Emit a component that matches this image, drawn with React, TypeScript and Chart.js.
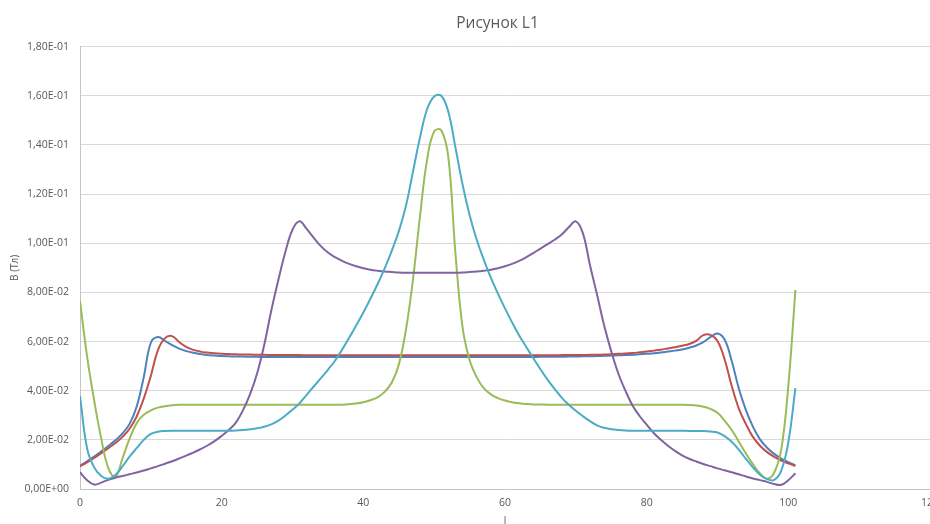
import React, { useEffect, useRef } from "react";
import { Chart, registerables } from "chart.js";

Chart.register(...registerables);

const positions = [
  0, 1, 2, 3, 4, 5, 6, 7, 8, 9, 10, 11, 12, 13, 14, 15, 16, 17, 18, 19, 20, 21, 22, 23, 24, 25,
  26, 27, 28, 29, 30, 31, 32, 33, 34, 35, 36, 37, 38, 39, 40, 41, 42, 43, 44, 45, 46, 47, 48, 49, 50,
  51, 52, 53, 54, 55, 56, 57, 58, 59, 60, 61, 62, 63, 64, 65, 66, 67, 68, 69, 70, 71, 72, 73, 74, 75,
  76, 77, 78, 79, 80, 81, 82, 83, 84, 85, 86, 87, 88, 89, 90, 91, 92, 93, 94, 95, 96, 97, 98, 99, 100, 101,
];

const seriesBlue = [
  0.0095, 0.0113, 0.0132, 0.0153, 0.0175, 0.0198, 0.0226, 0.0265, 0.0335, 0.0455,
  0.0595, 0.0618, 0.0603, 0.0585, 0.0571, 0.0561, 0.0554, 0.0549, 0.0545, 0.0543,
  0.0541, 0.054, 0.0539, 0.0539, 0.0538, 0.0538, 0.0537, 0.0537, 0.0537, 0.0537,
  0.0537, 0.0537, 0.0537, 0.0537, 0.0537, 0.0537, 0.0537, 0.0537, 0.0537, 0.0537,
  0.0537, 0.0537, 0.0537, 0.0537, 0.0537, 0.0537, 0.0537, 0.0537, 0.0537, 0.0537,
  0.0537, 0.0537, 0.0537, 0.0537, 0.0537, 0.0537, 0.0537, 0.0537, 0.0537, 0.0537,
  0.0537, 0.0537, 0.0537, 0.0537, 0.0537, 0.0538, 0.0538, 0.0538, 0.0538, 0.0539,
  0.0539, 0.054, 0.054, 0.0541, 0.0542, 0.0543, 0.0544, 0.0545, 0.0546, 0.0548,
  0.055, 0.0552, 0.0555, 0.0559, 0.0563, 0.0568, 0.0575, 0.0584, 0.0598, 0.0618,
  0.0633, 0.0608, 0.0522, 0.041, 0.0322, 0.0254, 0.0202, 0.0168, 0.0143, 0.0124,
  0.0109, 0.0097,
];

const seriesRed = [
  0.0092, 0.0108, 0.0126, 0.0146, 0.0166, 0.0187, 0.0212, 0.0245, 0.0295, 0.0368,
  0.046, 0.0565, 0.0614, 0.0622, 0.0598, 0.0578, 0.0566, 0.0559, 0.0555, 0.0552,
  0.055, 0.0549, 0.0548, 0.0547, 0.0547, 0.0546, 0.0546, 0.0545, 0.0545, 0.0545,
  0.0545, 0.0545, 0.0544, 0.0544, 0.0544, 0.0544, 0.0544, 0.0544, 0.0544, 0.0544,
  0.0544, 0.0544, 0.0544, 0.0544, 0.0544, 0.0544, 0.0544, 0.0544, 0.0544, 0.0544,
  0.0544, 0.0544, 0.0544, 0.0544, 0.0544, 0.0544, 0.0544, 0.0544, 0.0544, 0.0544,
  0.0544, 0.0544, 0.0544, 0.0544, 0.0544, 0.0544, 0.0544, 0.0544, 0.0545, 0.0545,
  0.0545, 0.0545, 0.0546, 0.0546, 0.0547, 0.0548, 0.055, 0.0551, 0.0553, 0.0556,
  0.0559, 0.0563, 0.0567, 0.0572, 0.0577, 0.0583, 0.059, 0.0603, 0.0626, 0.0627,
  0.0602, 0.0528, 0.042, 0.0328, 0.0265, 0.0212, 0.0176, 0.015, 0.0131, 0.0116,
  0.0104, 0.0093,
];

const seriesGreen = [
  0.0765, 0.054, 0.036, 0.0205, 0.0085, 0.0048, 0.0125, 0.0205, 0.0268, 0.0302,
  0.032, 0.0331, 0.0337, 0.0341, 0.0343, 0.0343, 0.0343, 0.0343, 0.0343, 0.0343,
  0.0343, 0.0343, 0.0343, 0.0343, 0.0343, 0.0343, 0.0343, 0.0343, 0.0343, 0.0343,
  0.0343, 0.0343, 0.0343, 0.0343, 0.0343, 0.0343, 0.0343, 0.0343, 0.0345, 0.0348,
  0.0353, 0.0361, 0.0373, 0.0395, 0.0432, 0.0505, 0.0645, 0.085, 0.111, 0.134,
  0.1455, 0.146, 0.135, 0.096, 0.066, 0.0525, 0.0455, 0.041, 0.0385, 0.037,
  0.036, 0.0353, 0.0349, 0.0346, 0.0344, 0.0344, 0.0343, 0.0343, 0.0343, 0.0343,
  0.0343, 0.0343, 0.0343, 0.0343, 0.0343, 0.0343, 0.0343, 0.0343, 0.0343, 0.0343,
  0.0343, 0.0343, 0.0343, 0.0343, 0.0343, 0.0343, 0.0342, 0.034, 0.0335, 0.0326,
  0.031, 0.0278, 0.024, 0.0193, 0.0145, 0.0101, 0.0063, 0.0042, 0.0066, 0.016,
  0.042, 0.081,
];

const seriesPurple = [
  0.0068, 0.0036, 0.0018, 0.0026, 0.0037, 0.0046, 0.0053, 0.006, 0.0067, 0.0075,
  0.0084, 0.0093, 0.0103, 0.0113, 0.0124, 0.0136, 0.0148, 0.0162, 0.0177, 0.0195,
  0.0216, 0.024, 0.027, 0.032, 0.0385, 0.047, 0.0585, 0.0725, 0.085, 0.0965,
  0.1055, 0.1089, 0.1058, 0.1022, 0.0988, 0.0962, 0.0943, 0.0928, 0.0916, 0.0906,
  0.0898, 0.0892, 0.0888, 0.0885, 0.0883, 0.0881, 0.088, 0.088, 0.088, 0.088,
  0.088, 0.088, 0.088, 0.088, 0.0881, 0.0883, 0.0885, 0.0888, 0.0892, 0.0898,
  0.0906, 0.0916, 0.0928, 0.0943, 0.096, 0.0978, 0.0996, 0.1014, 0.1035, 0.1065,
  0.1089, 0.104, 0.091, 0.079, 0.0665, 0.056, 0.047, 0.04, 0.034, 0.0297,
  0.0262, 0.0228, 0.02, 0.0176, 0.0155, 0.0137, 0.0123, 0.0112, 0.0102, 0.0093,
  0.0084, 0.0076, 0.0068, 0.006, 0.0051, 0.0043, 0.0036, 0.0029, 0.002, 0.0017,
  0.0036, 0.0064,
];

const seriesCyan = [
  0.0378, 0.0165, 0.0088, 0.0053, 0.0042, 0.0058, 0.0092, 0.0132, 0.0166, 0.02,
  0.0224, 0.0233, 0.0236, 0.0237, 0.0237, 0.0237, 0.0237, 0.0237, 0.0237, 0.0237,
  0.0237, 0.0237, 0.0238, 0.024, 0.0243, 0.0247, 0.0253, 0.0263, 0.0278, 0.0299,
  0.0323, 0.0349, 0.0383, 0.0417, 0.0451, 0.0485, 0.0522, 0.0567, 0.0615, 0.0666,
  0.0718, 0.0774, 0.0833, 0.0897, 0.0968, 0.1048, 0.115, 0.129, 0.143, 0.1545,
  0.1597, 0.16, 0.1535, 0.139, 0.124, 0.1115, 0.1015, 0.0933, 0.086, 0.0795,
  0.0735, 0.0678, 0.0625, 0.0578, 0.0532, 0.0487, 0.0445, 0.0407, 0.0372, 0.0343,
  0.0318, 0.0296, 0.0276, 0.0259, 0.0249, 0.0243, 0.024, 0.0238, 0.0237, 0.0237,
  0.0237, 0.0237, 0.0237, 0.0237, 0.0237, 0.0237, 0.0236, 0.0236, 0.0236, 0.0234,
  0.023, 0.0215, 0.0192, 0.016, 0.0123, 0.0088, 0.0058, 0.004, 0.0037, 0.0075,
  0.019, 0.041,
];

const seriesList = [seriesBlue, seriesRed, seriesGreen, seriesPurple, seriesCyan];
const seriesNames = ["Ряд1", "Ряд2", "Ряд3", "Ряд4", "Ряд5"];
const seriesColors = ["#4F81BD", "#C0504D", "#9BBB59", "#8064A2", "#4BACC6"];

const chartTitle = "Рисунок L1";
const yTitle = "B (Тл)";
const xTitle = "l";
const xMin = 0;
const xMax = 120;
const xStep = 20;
const yMin = 0;
const yMax = 0.18;
const yStep = 0.02;

function formatSci(v: number): string {
  if (Math.abs(v) < 1e-12) return "0,00E+00";
  let e = Math.floor(Math.log10(Math.abs(v)));
  let s = (v / Math.pow(10, e)).toFixed(2);
  if (Math.abs(parseFloat(s)) >= 10) {
    e += 1;
    s = (v / Math.pow(10, e)).toFixed(2);
  }
  const sign = e < 0 ? "-" : "+";
  return s.replace(".", ",") + "E" + sign + String(Math.abs(e)).padStart(2, "0");
}

const CANVAS_W = 995;
const CANVAS_H = 540;
const FONT = "'Open Sans', 'DejaVu Sans', sans-serif";
const TEXT = "#595959";

export default function App() {
  const ref = useRef<HTMLCanvasElement | null>(null);

  useEffect(() => {
    if (!ref.current) return;
    const chart = new Chart(ref.current, {
      type: "line",
      data: {
        datasets: seriesList.map((vals, i) => ({
          label: seriesNames[i],
          data: positions.map((x, j) => ({ x, y: vals[j] })),
          borderColor: seriesColors[i],
          backgroundColor: seriesColors[i],
          borderWidth: 2,
          pointRadius: 0,
          tension: 0.4,
          fill: false,
          order: seriesList.length - i,
        })),
      },
      options: {
        responsive: false,
        animation: false,
        events: [],
        layout: { padding: 0 },
        plugins: {
          legend: { display: false },
          tooltip: { enabled: false },
          title: {
            display: true,
            text: chartTitle,
            color: TEXT,
            font: { family: FONT, size: 15.5, weight: "normal" },
            padding: { top: 14, bottom: 14 },
          },
        },
        scales: {
          x: {
            type: "linear",
            min: xMin,
            max: xMax,
            grid: { display: false, drawTicks: false },
            border: { display: true, color: "#c4c4c4", width: 1 },
            ticks: {
              stepSize: xStep,
              color: TEXT,
              font: { family: FONT, size: 10.5 },
              padding: 8,
              maxRotation: 0,
              autoSkip: false,
            },
            title: {
              display: true,
              text: xTitle,
              color: TEXT,
              font: { family: FONT, size: 10 },
              padding: { top: 0, bottom: 13 },
            },
            afterFit: (scale: any) => {
              scale.height = CANVAS_H - 489;
              scale.paddingLeft = 0;
              scale.paddingRight = 65;
            },
          },
          y: {
            type: "linear",
            min: yMin,
            max: yMax,
            grid: { display: true, color: "#d9d9d9", lineWidth: 1, drawTicks: false },
            border: { display: true, color: "#c4c4c4", width: 1 },
            ticks: {
              stepSize: yStep,
              color: TEXT,
              font: { family: FONT, size: 10.5 },
              padding: 11,
              callback: (v: any) => formatSci(Number(v)),
            },
            title: {
              display: true,
              text: yTitle,
              color: TEXT,
              font: { family: FONT, size: 10 },
              padding: { top: 9, bottom: 0 },
            },
            afterFit: (scale: any) => {
              scale.width = 80;
              scale.paddingTop = 0;
              scale.paddingBottom = 0;
            },
          },
        },
      },
    } as any);
    return () => chart.destroy();
  }, []);

  return (
    <div
      style={{
        position: "fixed",
        left: 0,
        top: 0,
        width: 930,
        height: 524,
        overflow: "hidden",
        background: "#ffffff",
      }}
    >
      <canvas ref={ref} width={CANVAS_W} height={CANVAS_H} style={{ display: "block" }} />
    </div>
  );
}
